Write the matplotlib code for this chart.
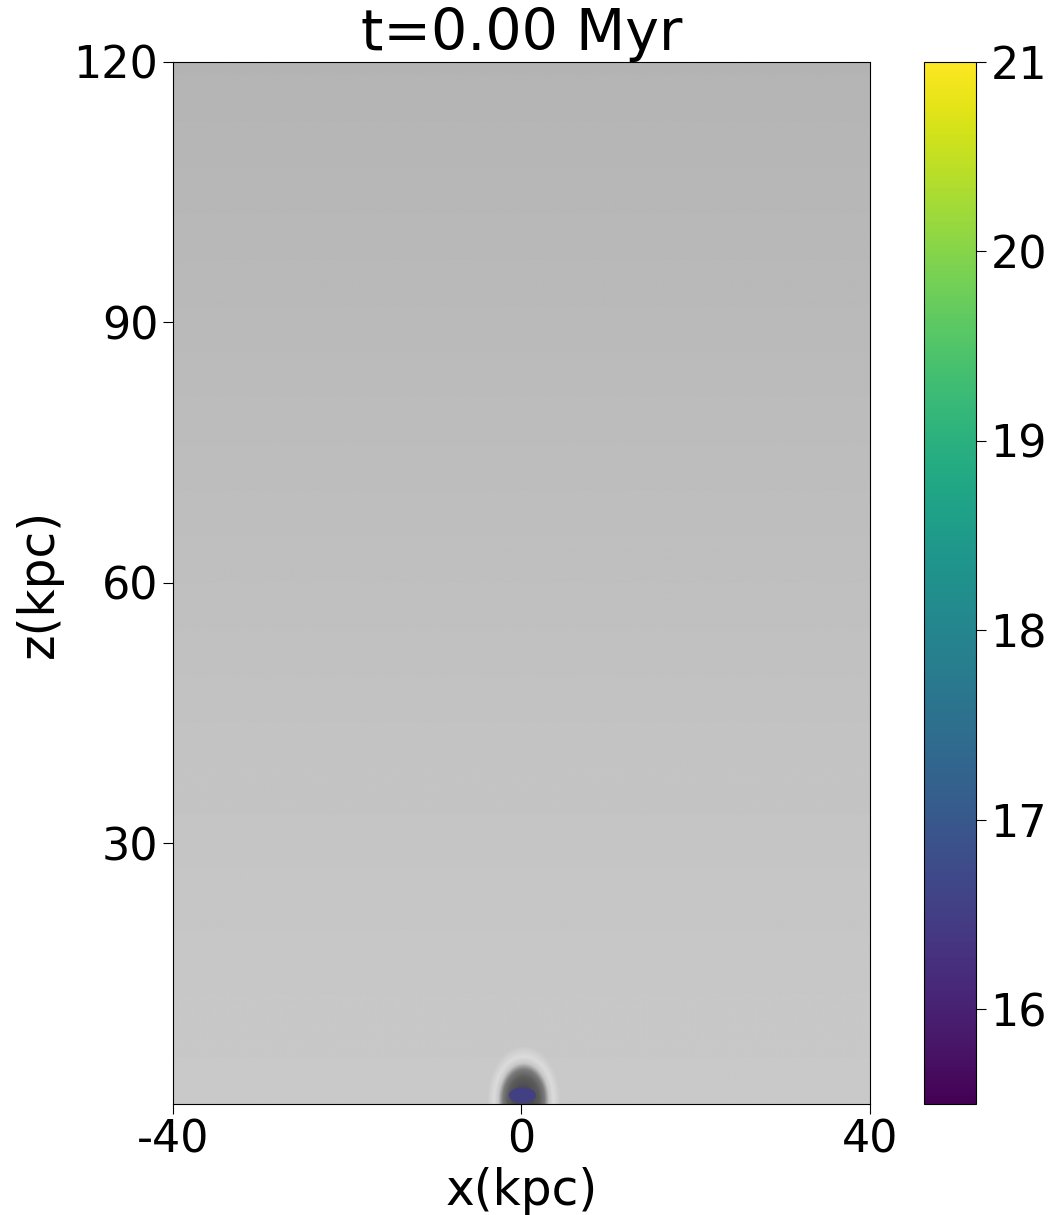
import numpy as np
import matplotlib
matplotlib.use("Agg")
import matplotlib.pyplot as plt
from matplotlib.patches import Ellipse

plt.rcParams['axes.unicode_minus'] = False

# gas column density map (grey) at z levels, bottom to top
z_levels = [0, 30, 60, 90, 120]
gray_levels = [0.788, 0.772, 0.750, 0.728, 0.706]

# halo around the galaxy: radius (kpc) vs grey level
halo_r = [0.0, 1.0, 1.8, 2.4, 2.9, 3.4, 4.2]
halo_gray = [0.28, 0.30, 0.36, 0.48, 0.78, 0.86, 0.788]
halo_center = (0.2, 0.4)
halo_zscale = 0.68

# HI disc in viridis
disc_center = (0.1, 1.0)
disc_size = (3.1, 1.85)
disc_value = 16.55

cb_min, cb_max = 15.5, 21
cb_ticks = [16, 17, 18, 19, 20, 21]
x_ticks = [-40, 0, 40]
z_ticks = [30, 60, 90, 120]
time_myr = 0.00

fig = plt.figure(figsize=(10.54, 12.15), dpi=100)
ax = fig.add_axes([0.1641, 0.0914, 0.6613, 0.8576])
cax = fig.add_axes([0.8767, 0.0914, 0.0493, 0.8576])

xs = np.linspace(-40, 40, 801)
zs = np.linspace(0, 120, 1201)
X, Z = np.meshgrid(xs, zs)
img = np.interp(Z, z_levels, gray_levels)
R = np.hypot(X - halo_center[0], (Z - halo_center[1]) * halo_zscale)
near = R < halo_r[-1]
img[near] = np.interp(R[near], halo_r, halo_gray)

ax.imshow(img, origin="lower", extent=[-40, 40, 0, 120], cmap="gray",
          vmin=0, vmax=1, aspect="auto", interpolation="bilinear")

cmap = plt.get_cmap("viridis")
norm = matplotlib.colors.Normalize(cb_min, cb_max)
ax.add_patch(Ellipse(disc_center, disc_size[0], disc_size[1],
                     facecolor=cmap(norm(disc_value)), edgecolor="none",
                     alpha=0.95, zorder=3))

ax.set_xlim(-40, 40)
ax.set_ylim(0, 120)
ax.set_xticks(x_ticks)
ax.set_yticks(z_ticks)
ax.tick_params(labelsize=32, length=7)
ax.set_xlabel("x(kpc)", fontsize=35, labelpad=4)
ax.set_ylabel("z(kpc)", fontsize=35, labelpad=8)
ax.set_title("t={:.2f} Myr".format(time_myr), fontsize=41, pad=6)

sm = matplotlib.cm.ScalarMappable(norm=norm, cmap=cmap)
cb = fig.colorbar(sm, cax=cax, ticks=cb_ticks)
cb.ax.tick_params(labelsize=32, length=7)

fig.savefig("out.png", dpi=100)
